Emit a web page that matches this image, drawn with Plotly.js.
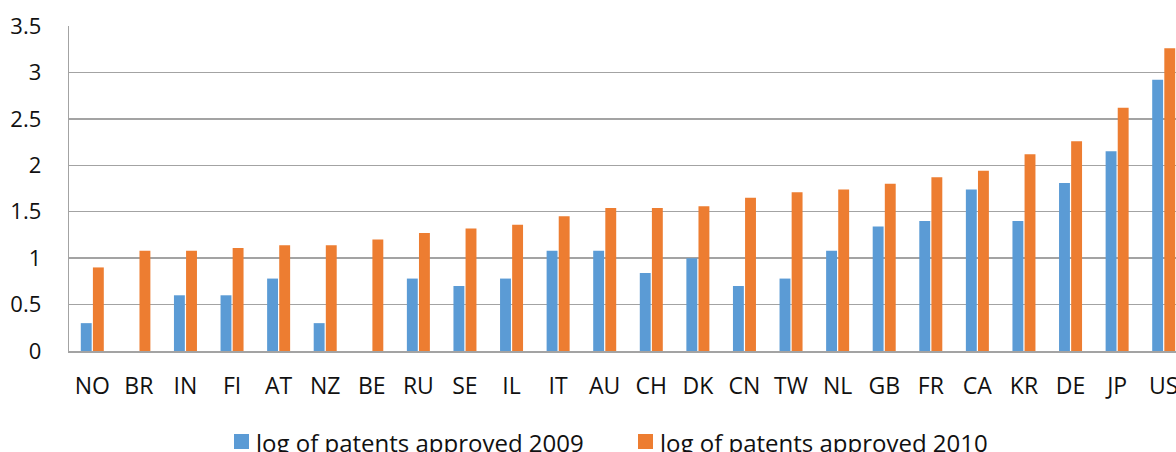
<!DOCTYPE html>
<html>
<head>
<meta charset="utf-8">
<script src="https://cdn.plot.ly/plotly-3.0.1.min.js"></script>
<style>
html, body { margin: 0; padding: 0; background: #fff; overflow: hidden; }
#wrap { width: 1176px; height: 452px; overflow: hidden; position: relative; }
#chart { width: 1187px; height: 452px; }
</style>
</head>
<body>
<div id="wrap"><div id="chart"></div></div>
<script>
const countries = ["NO","BR","IN","FI","AT","NZ","BE","RU","SE","IL","IT","AU","CH","DK","CN","TW","NL","GB","FR","CA","KR","DE","JP","US"];
const patents2009 = [0.30,0,0.60,0.60,0.78,0.30,0,0.78,0.70,0.78,1.08,1.08,0.84,1.00,0.70,0.78,1.08,1.34,1.40,1.74,1.40,1.81,2.15,2.92];
const patents2010 = [0.90,1.08,1.08,1.11,1.14,1.14,1.20,1.27,1.32,1.36,1.45,1.54,1.54,1.56,1.65,1.71,1.74,1.80,1.87,1.94,2.12,2.26,2.62,3.26];
const seriesNames = ["log of patents approved 2009","log of patents approved 2010"];
const yTicks = [0,0.5,1,1.5,2,2.5,3,3.5];
const yTickText = ["0","0.5","1","1.5","2","2.5","3","3.5"];

const blue = "#5B9BD5", orange = "#ED7D31";
const font = "'Open Sans', 'Noto Sans', sans-serif";
const txt = "#111111";
const grid = "#a3a3a3";

// pixel helpers for paper coords (plot area: left 69, width 1118, top 26, height 325)
const L = 69, W = 1118, T = 26, H = 325;
const px = p => (p - L) / W;
const py = p => (T + H - p) / H;

const traces = [
  { type: "bar", x: countries, y: patents2009, name: seriesNames[0], marker: { color: blue }, hoverinfo: "x+y" },
  { type: "bar", x: countries, y: patents2010, name: seriesNames[1], marker: { color: orange }, hoverinfo: "x+y" }
];

const legendItems = [
  { color: blue, sx: 234, tx: 254, name: seriesNames[0] },
  { color: orange, sx: 638, tx: 658, name: seriesNames[1] }
];

const shapes = legendItems.map(it => ({
  type: "rect", xref: "paper", yref: "paper",
  x0: px(it.sx), x1: px(it.sx + 15), y0: py(449), y1: py(434),
  fillcolor: it.color, line: { width: 0 }
}));
const annotations = legendItems.map(it => ({
  xref: "paper", yref: "paper", x: px(it.tx), y: py(442),
  xanchor: "left", yanchor: "middle", showarrow: false,
  text: it.name, font: { family: font, size: 24, color: txt }
}));

const layout = {
  width: 1187, height: 452,
  margin: { l: L, r: 0, t: T, b: 452 - T - H, pad: 0 },
  paper_bgcolor: "#fff", plot_bgcolor: "#fff",
  showlegend: false,
  barmode: "group", bargap: 0.48, bargroupgap: 0.1,
  xaxis: {
    type: "category", range: [-0.5, 23.5],
    showgrid: false, showline: true, linecolor: grid, linewidth: 1.5,
    ticks: "outside", ticklen: 14, tickcolor: "rgba(0,0,0,0)",
    tickfont: { family: font, size: 23, color: txt },
    fixedrange: true
  },
  yaxis: {
    range: [0, 3.5], tickvals: yTicks, ticktext: yTickText,
    showgrid: true, gridcolor: grid, gridwidth: 1.3,
    showline: true, linecolor: grid, linewidth: 1.3,
    zeroline: false,
    ticks: "outside", ticklen: 22, tickcolor: "rgba(0,0,0,0)",
    tickfont: { family: font, size: 22, color: txt },
    fixedrange: true
  },
  shapes: shapes,
  annotations: annotations
};

Plotly.newPlot("chart", traces, layout, { displayModeBar: false, staticPlot: true });
</script>
</body>
</html>
